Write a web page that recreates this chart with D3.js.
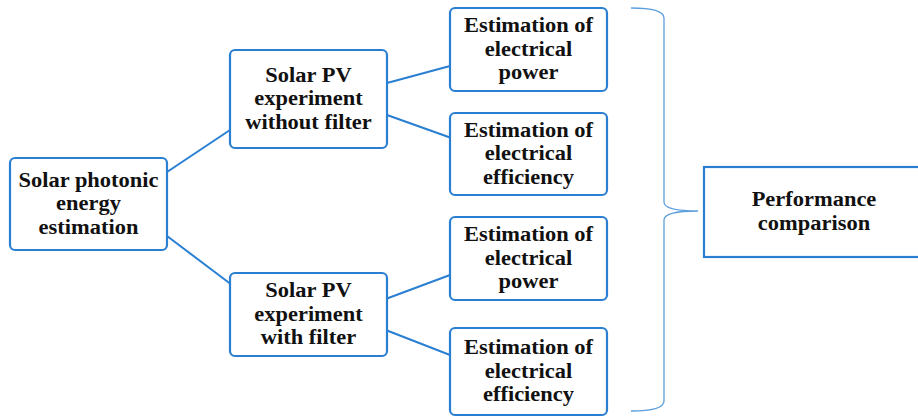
<!DOCTYPE html>
<html>
<head>
<meta charset="utf-8">
<script src="https://cdn.jsdelivr.net/npm/d3@7"></script>
<style>
  body { margin: 0; background: #fff; }
  svg { display: block; }
</style>
</head>
<body>
<div id="chart"></div>
<script>
// node labels (one entry per line of text)
var nodeIds = ["src", "noFilter", "withFilter", "pow1", "eff1", "pow2", "eff2", "perf"];
var nodeLabels = [
  ["Solar photonic", "energy", "estimation"],
  ["Solar PV", "experiment", "without filter"],
  ["Solar PV", "experiment", "with filter"],
  ["Estimation of", "electrical", "power"],
  ["Estimation of", "electrical", "efficiency"],
  ["Estimation of", "electrical", "power"],
  ["Estimation of", "electrical", "efficiency"],
  ["Performance", "comparison"]
];
var nodeColumn = [0, 1, 1, 2, 2, 2, 2, 3];
var links = [
  ["src", "noFilter"], ["src", "withFilter"],
  ["noFilter", "pow1"], ["noFilter", "eff1"],
  ["withFilter", "pow2"], ["withFilter", "eff2"]
];

// layout
var W = 918, H = 417;
var colX = d3.scaleOrdinal().domain([0, 1, 2, 3]).range([10, 230, 450, 704]);
var colW = d3.scaleOrdinal().domain([0, 1, 2, 3]).range([157, 157, 157, 220]);
var boxY = {src: [158, 250], noFilter: [50, 148], withFilter: [273, 356],
  pow1: [8, 91], eff1: [113, 195], pow2: [217, 300], eff2: [328, 415], perf: [167, 257]};
var blue = "#2a7fd2";

var svg = d3.select("#chart").append("svg").attr("width", W).attr("height", H);

var nodes = nodeIds.map(function(id, i) {
  var x = colX(nodeColumn[i]), w = colW(nodeColumn[i]);
  return {id: id, lines: nodeLabels[i], col: nodeColumn[i], x: x, w: w,
    y: boxY[id][0], h: boxY[id][1] - boxY[id][0]};
});
var byId = {};
nodes.forEach(function(n) { byId[n.id] = n; });

// connectors
svg.selectAll("line.link").data(links).enter().append("line")
  .attr("class", "link")
  .attr("stroke", blue).attr("stroke-width", 2)
  .attr("x1", function(d) { var s = byId[d[0]]; return s.x + s.w; })
  .attr("x2", function(d) { return byId[d[1]].x; })
  .attr("y1", function(d) {
    var s = byId[d[0]], t = byId[d[1]];
    var off = s.col == 0 ? 32 : 16, sc = s.y + s.h / 2, tc = t.y + t.h / 2;
    return sc + Math.sign(tc - sc) * off;
  })
  .attr("y2", function(d) {
    var s = byId[d[0]], t = byId[d[1]];
    var off = s.col == 0 ? 31 : 16.5, sc = s.y + s.h / 2, tc = t.y + t.h / 2;
    return tc - Math.sign(tc - sc) * off;
  });

// brace
var bx0 = 631, bx1 = 664, tipX = 698, tipY = 211, by0 = 8, by1 = 411;
svg.append("path")
  .attr("d", "M" + bx0 + "," + by0 + " Q" + bx1 + "," + by0 + " " + bx1 + "," + (by0 + 10) +
    " L" + bx1 + "," + (tipY - 9) + " Q" + bx1 + "," + tipY + " " + tipX + "," + tipY +
    " Q" + bx1 + "," + tipY + " " + bx1 + "," + (tipY + 9) +
    " L" + bx1 + "," + (by1 - 10) + " Q" + bx1 + "," + by1 + " " + bx0 + "," + by1)
  .attr("fill", "none").attr("stroke", "#5c9fdc").attr("stroke-width", 1.3);

// boxes
var g = svg.selectAll("g.node").data(nodes).enter().append("g").attr("class", "node");
g.append("rect")
  .attr("x", function(d) { return d.x; })
  .attr("y", function(d) { return d.y; })
  .attr("width", function(d) { return d.w; })
  .attr("height", function(d) { return d.h; })
  .attr("rx", function(d) { return d.col == 3 ? 0 : 5; })
  .attr("fill", "#fff").attr("stroke", blue).attr("stroke-width", 2.2);

g.each(function(d) {
  var cx = d.col == 3 ? 814 : d.x + d.w / 2;
  var cy = d.y + d.h / 2 + 6;
  var n = d.lines.length;
  d3.select(this).selectAll("text").data(d.lines).enter().append("text")
    .attr("text-anchor", "middle")
    .attr("transform", function(t, i) {
      return "translate(" + cx + "," + (cy + (i - (n - 1) / 2) * 23.5) + ") scale(1.07,1)";
    })
    .style("font-family", "'Liberation Serif'")
    .style("font-weight", "bold").style("font-size", "21px")
    .attr("fill", "#111")
    .text(function(t) { return t; });
});
</script>
</body>
</html>
